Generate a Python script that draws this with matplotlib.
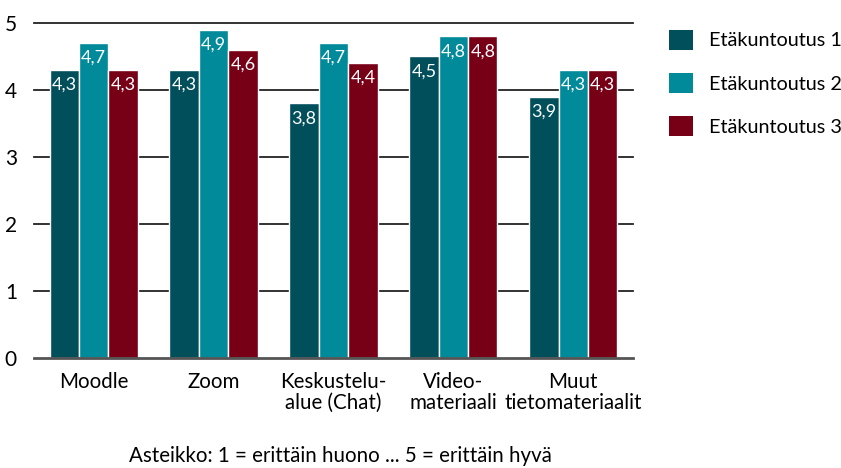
import numpy as np
import matplotlib
matplotlib.use("Agg")
import matplotlib.pyplot as plt
from matplotlib.patches import Patch

plt.rcParams["font.family"] = ["Lato", "DejaVu Sans"]

categories = ["Moodle", "Zoom", "Keskustelu-\nalue (Chat)", "Video-\nmateriaali", "Muut\ntietomateriaalit"]
series_names = ["Etäkuntoutus 1", "Etäkuntoutus 2", "Etäkuntoutus 3"]
etak1 = [4.3, 4.3, 3.8, 4.5, 3.9]
etak2 = [4.7, 4.9, 4.7, 4.8, 4.3]
etak3 = [4.3, 4.6, 4.4, 4.8, 4.3]
colors = ["#004f5b", "#008a9a", "#780016"]

fig = plt.figure(figsize=(8.41, 4.68), dpi=100)
ax = fig.add_axes([0.040, 0.235, 0.713, 0.716])

x = np.arange(len(categories))
w = 0.245
for i, (vals, col) in enumerate(zip([etak1, etak2, etak3], colors)):
    pos = x + (i - 1) * w
    ax.bar(pos, vals, width=w, color=col, edgecolor="white", linewidth=1, zorder=3)
    for p, v in zip(pos, vals):
        ax.annotate(f"{v:.1f}".replace(".", ","), (p, v), xytext=(0, -5),
                    textcoords="offset points", ha="center", va="top",
                    color="white", fontsize=13, zorder=4)

ax.set_xlim(-0.5, 4.5)
ax.set_ylim(0, 5)
ax.set_yticks(range(6))
for y in range(1, 6):
    ax.axhline(y, color="#222222", lw=1.3, zorder=1, clip_on=False)
ax.axhline(0, color="#555555", lw=2, zorder=5, clip_on=False)
for s in ax.spines.values():
    s.set_visible(False)
ax.tick_params(axis="both", length=0)
ax.tick_params(axis="y", pad=12, labelsize=15)
ax.set_xticks(x)
ax.set_xticklabels(categories, fontsize=14.8, linespacing=1.05)
ax.tick_params(axis="x", pad=10)

handles = [Patch(facecolor=c, label=n) for c, n in zip(colors, series_names)]
fig.legend(handles=handles, loc="upper left", bbox_to_anchor=(0.774, 0.975),
           frameon=False, fontsize=14.3, handlelength=1.2, handleheight=1.2,
           labelspacing=1.15, handletextpad=0.8)

fig.text(0.405, 0.013, "Asteikko: 1 = erittäin huono ... 5 = erittäin hyvä",
         ha="center", fontsize=14.8)

fig.savefig("out.png", dpi=100)
